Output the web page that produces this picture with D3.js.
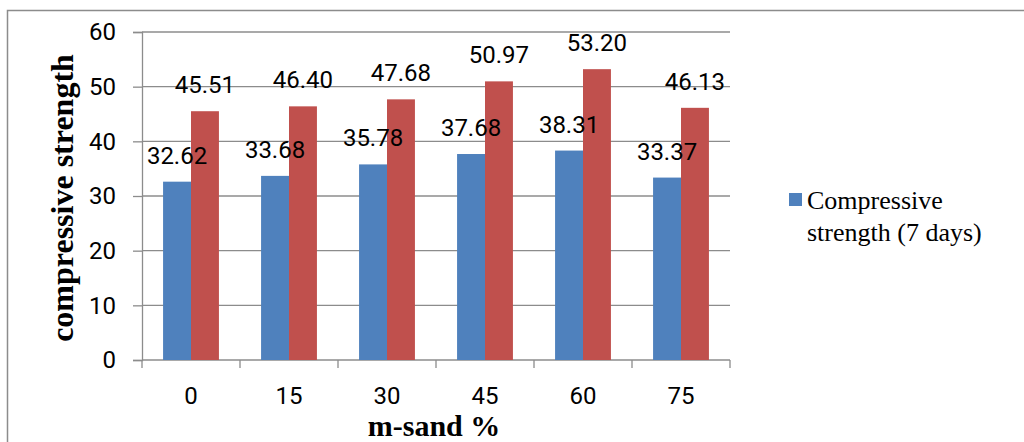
<!DOCTYPE html>
<html lang="en">
<head>
    <meta charset="UTF-8">
    <title>compressive strength</title>
    <script src="https://cdnjs.cloudflare.com/ajax/libs/d3/7.8.5/d3.min.js"></script>
    <style>
        body { margin: 0; background: #fff; overflow: hidden; }
    </style>
</head>
<body>
    <div id="wrapper"></div>
    <script>
        // data
        const categories = ['0', '15', '30', '45', '60', '75']
        const strength7 = [32.62, 33.68, 35.78, 37.68, 38.31, 33.37]
        const strength28 = [45.51, 46.40, 47.68, 50.97, 53.20, 46.13]
        const yTicks = [0, 10, 20, 30, 40, 50, 60]
        const legendLines = ['Compressive', 'strength (7 days)']

        const width = 1024
        const height = 442
        const margin = { top: 32, left: 142, right: 294, bottom: 82 }
        const boundedWidth = width - margin.left - margin.right
        const boundedHeight = height - margin.top - margin.bottom
        const numFont = 'Roboto, sans-serif'
        const serif = '"Liberation Serif", "Times New Roman", serif'

        const svg = d3.select('#wrapper')
            .append('svg')
                .attr('width', width)
                .attr('height', height)
                .style('display', 'block')

        // outer frame
        svg.append('rect')
            .attr('x', 7.5)
            .attr('y', 10.5)
            .attr('width', 1030)
            .attr('height', 450)
            .attr('fill', 'none')
            .attr('stroke', '#8c8c8c')
            .attr('stroke-width', 1.5)

        const bounds = svg.append('g')
            .attr('transform', `translate(${margin.left},${margin.top})`)

        const xScale = d3.scaleBand()
            .domain(categories)
            .range([0, boundedWidth])
            .paddingInner(0.43)
            .paddingOuter(0.215)

        const yScale = d3.scaleLinear()
            .domain([0, 60])
            .range([boundedHeight, 0])

        // gridlines
        bounds.append('g')
            .selectAll('line')
            .data(yTicks.filter(d => d > 0))
            .join('line')
                .attr('x1', 0)
                .attr('x2', boundedWidth)
                .attr('y1', d => yScale(d))
                .attr('y2', d => yScale(d))
                .attr('stroke', '#8c8c8c')
                .attr('stroke-width', 1.3)

        // y axis
        const yAxis = bounds.append('g')
            .call(d3.axisLeft(yScale).tickValues(yTicks).tickSize(9).tickPadding(17))
        yAxis.select('.domain').attr('stroke', '#8c8c8c').attr('stroke-width', 1.3)
        yAxis.selectAll('.tick line').attr('stroke', '#8c8c8c').attr('stroke-width', 1.3)
        yAxis.selectAll('.tick text')
            .attr('fill', '#000')
            .style('font-family', numFont)
            .style('font-size', '24px')

        // x axis with ticks between categories
        const xAxisG = bounds.append('g')
            .attr('transform', `translate(0,${boundedHeight})`)
        xAxisG.append('line')
            .attr('x1', 0).attr('x2', boundedWidth)
            .attr('stroke', '#8c8c8c').attr('stroke-width', 1.3)
        const step = xScale.step()
        xAxisG.selectAll('.sep')
            .data(d3.range(categories.length + 1))
            .join('line')
                .attr('class', 'sep')
                .attr('x1', i => i * step)
                .attr('x2', i => i * step)
                .attr('y1', 0)
                .attr('y2', 8)
                .attr('stroke', '#8c8c8c')
                .attr('stroke-width', 1.3)
        xAxisG.selectAll('.lbl')
            .data(categories)
            .join('text')
                .attr('class', 'lbl')
                .attr('x', d => xScale(d) + xScale.bandwidth() / 2)
                .attr('y', 44)
                .attr('text-anchor', 'middle')
                .style('font-family', numFont)
                .style('font-size', '24px')
                .text(d => d)

        const barW = xScale.bandwidth() / 2
        const series = [
            { values: strength7, color: '#4f81bd', offset: 0 },
            { values: strength28, color: '#c0504d', offset: 1 },
        ]

        // bars first, then all labels on top
        series.forEach(s => {
            bounds.append('g')
                .selectAll('rect')
                .data(s.values)
                .join('rect')
                    .attr('x', (d, i) => xScale(categories[i]) + s.offset * barW)
                    .attr('y', d => yScale(d))
                    .attr('width', barW)
                    .attr('height', d => boundedHeight - yScale(d))
                    .attr('fill', s.color)
        })
        series.forEach(s => {
            bounds.append('g')
                .selectAll('text')
                .data(s.values)
                .join('text')
                    .attr('x', (d, i) => xScale(categories[i]) + s.offset * barW + barW / 2)
                    .attr('y', d => yScale(d) - 18)
                    .attr('text-anchor', 'middle')
                    .style('font-family', numFont)
                    .style('font-size', '24px')
                    .attr('fill', '#000')
                    .text(d => d.toFixed(2))
        })

        // axis titles
        svg.append('text')
            .attr('transform', `translate(73,${margin.top + boundedHeight / 2 + 2}) rotate(-90)`)
            .attr('text-anchor', 'middle')
            .style('font-family', serif)
            .style('font-weight', 'bold')
            .style('font-size', '32px')
            .text('compressive strength')

        svg.append('text')
            .attr('x', 434)
            .attr('y', 436)
            .attr('text-anchor', 'middle')
            .style('font-family', serif)
            .style('font-weight', 'bold')
            .style('font-size', '30px')
            .text('m-sand %')

        // legend
        const legend = svg.append('g')
            .attr('transform', 'translate(789,193)')
        legend.append('rect')
            .attr('width', 13)
            .attr('height', 13)
            .attr('fill', '#4f81bd')
        legend.selectAll('text')
            .data(legendLines)
            .join('text')
                .attr('x', 18)
                .attr('y', (d, i) => 16 + i * 32)
                .style('font-family', serif)
                .style('font-size', '26px')
                .text(d => d)
    </script>
</body>
</html>
